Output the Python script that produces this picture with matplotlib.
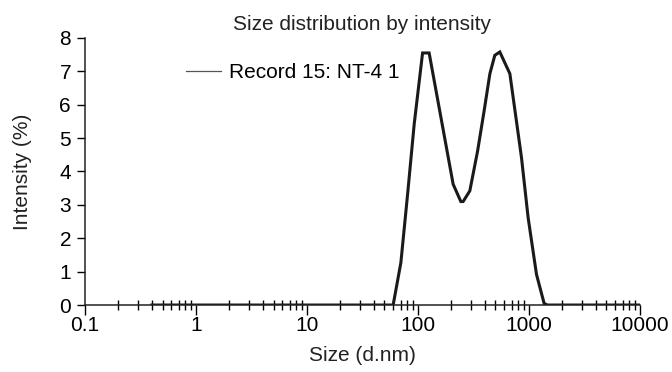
import numpy as np
import matplotlib.pyplot as plt
from matplotlib.lines import Line2D
from matplotlib.ticker import LogLocator, FixedLocator, FixedFormatter, NullFormatter

plt.rcParams['font.family'] = ['Liberation Sans', 'DejaVu Sans']

# size (d.nm) and intensity (%)
sizes = [0.4, 59.9, 70.3, 81.0, 92.7, 110.3, 126.4, 150.0, 178.0, 208.0, 244.0,
         256.0, 294.0, 345.0, 395.0, 446.0, 494.0, 548.0, 675.0, 859.0, 986.0,
         1173.0, 1374.0, 1470.0, 10000.0]
intensity = [0.0, 0.0, 1.27, 3.35, 5.42, 7.55, 7.55, 6.2, 4.85, 3.62, 3.1,
             3.1, 3.42, 4.6, 5.8, 6.93, 7.48, 7.58, 6.93, 4.42, 2.62,
             0.92, 0.05, 0.0, 0.0]

x_major = [0.1, 1, 10, 100, 1000, 10000]
x_labels = ['0.1', '1', '10', '100', '1000', '10000']
legend_label = 'Record 15: NT-4 1'

fig = plt.figure(figsize=(6.72, 3.72), dpi=100)
ax = fig.add_axes([0.1265, 0.18, 0.8255, 0.718])

ax.plot(sizes, intensity, color='#1a1a1a', lw=2.2, solid_joinstyle='miter')

ax.set_xscale('log')
ax.set_xlim(0.1, 10000)
ax.set_ylim(0, 8)

ax.xaxis.set_major_locator(FixedLocator(x_major))
ax.xaxis.set_major_formatter(FixedFormatter(x_labels))
ax.xaxis.set_minor_locator(LogLocator(base=10, subs=np.arange(2, 10), numticks=20))
ax.xaxis.set_minor_formatter(NullFormatter())
ax.set_yticks(range(0, 9))

fs = 15
ax.tick_params(axis='x', which='major', direction='out', length=7, width=1, labelsize=fs, pad=1)
ax.tick_params(axis='x', which='minor', direction='inout', length=7, width=1)
ax.tick_params(axis='y', direction='out', length=6, width=1, labelsize=fs, pad=4)

for s in ['top', 'right']:
    ax.spines[s].set_visible(False)
for s in ['left', 'bottom']:
    ax.spines[s].set_linewidth(1.1)
    ax.spines[s].set_color('#222222')

ax.set_title('Size distribution by intensity', fontsize=fs, pad=6, color='#222222')
ax.set_xlabel('Size (d.nm)', fontsize=fs, labelpad=8, color='#222222')
ax.set_ylabel('Intensity (%)', fontsize=fs, labelpad=20, color='#222222')

handle = Line2D([], [], color='#555555', lw=0.9)
ax.legend([handle], [legend_label], loc='upper left', bbox_to_anchor=(0.148, 0.975),
          frameon=False, fontsize=fs, handlelength=1.7, handletextpad=0.35)

fig.savefig('out.png', dpi=100)
